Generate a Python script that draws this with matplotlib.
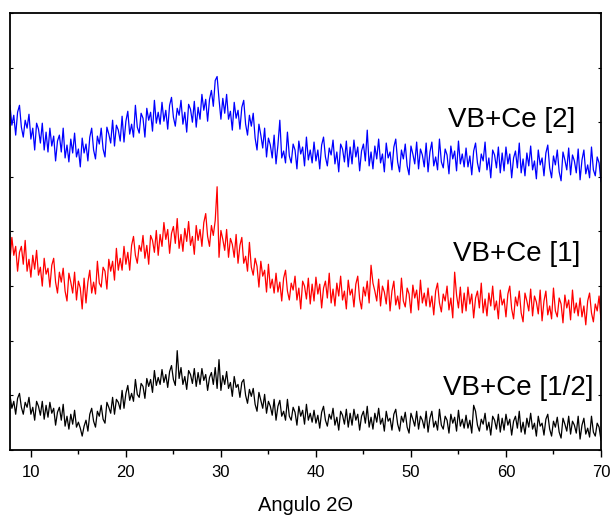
import numpy as np
import matplotlib
matplotlib.use("Agg")
import matplotlib.pyplot as plt

plt.rcParams['font.family'] = ['Liberation Sans', 'DejaVu Sans']

# angulo 2theta, passo de 0.2 graus (7.8 ... 70.0)
angulo = np.linspace(7.8, 70.0, 312)

# intensidades (unidades arbitrarias, curvas ja deslocadas)
vb_ce_2 = [
    347, 327, 337, 317, 340, 347, 325, 315, 332, 324, 338, 313, 324, 302, 329, 323, 309, 329, 302, 320,
    300, 324, 306, 316, 291, 311, 317, 300, 324, 294, 307, 290, 313, 299, 319, 295, 303, 285, 314, 299,
    308, 291, 315, 324, 302, 293, 316, 308, 324, 303, 295, 325, 318, 309, 332, 306, 327, 322, 311, 336,
    310, 331, 341, 318, 328, 315, 347, 325, 319, 339, 334, 315, 344, 332, 340, 321, 352, 329, 340, 328,
    350, 331, 342, 323, 347, 355, 335, 326, 344, 337, 352, 328, 340, 320, 348, 343, 330, 351, 325, 345,
    333, 358, 342, 353, 331, 353, 362, 346, 372, 376, 353, 333, 354, 339, 358, 333, 341, 322, 350, 334,
    342, 323, 345, 352, 328, 317, 337, 326, 339, 314, 302, 328, 317, 304, 324, 295, 314, 307, 294, 317,
    288, 307, 332, 294, 301, 289, 320, 296, 289, 308, 302, 283, 311, 298, 305, 286, 315, 292, 302, 289,
    310, 291, 302, 283, 307, 315, 295, 286, 304, 297, 312, 288, 300, 280, 308, 303, 290, 311, 285, 305,
    288, 312, 295, 305, 281, 301, 308, 291, 322, 286, 300, 283, 306, 293, 313, 289, 298, 280, 309, 294,
    300, 282, 305, 313, 290, 280, 302, 293, 308, 286, 277, 306, 298, 288, 310, 283, 303, 297, 285, 309,
    280, 300, 310, 286, 295, 282, 313, 290, 284, 303, 297, 278, 306, 293, 301, 281, 311, 288, 298, 285,
    304, 285, 296, 277, 301, 309, 289, 280, 298, 291, 310, 282, 294, 274, 302, 297, 284, 305, 279, 299,
    281, 305, 288, 298, 274, 294, 301, 284, 309, 279, 293, 276, 299, 286, 306, 282, 291, 273, 302, 287,
    294, 276, 299, 307, 284, 274, 296, 287, 302, 280, 271, 300, 292, 282, 304, 277, 297, 291, 279, 303,
    272, 292, 302, 278, 287, 274, 305, 282, 276, 295, 289, 270,
]

vb_ce_1 = [
    191, 214, 196, 205, 180, 199, 205, 187, 211, 180, 192, 174, 196, 182, 201, 176, 184, 165, 193, 177,
    183, 164, 186, 193, 169, 158, 179, 169, 183, 160, 150, 178, 169, 158, 179, 151, 170, 163, 142, 173,
    148, 169, 181, 158, 169, 157, 190, 168, 164, 184, 180, 162, 192, 180, 190, 171, 203, 181, 193, 181,
    205, 187, 199, 181, 206, 215, 196, 188, 206, 200, 216, 193, 206, 187, 216, 211, 199, 221, 196, 217,
    205, 229, 212, 222, 198, 218, 225, 208, 233, 203, 217, 200, 223, 210, 230, 206, 215, 197, 226, 211,
    222, 205, 229, 238, 215, 205, 226, 216, 231, 265, 194, 221, 212, 201, 222, 194, 213, 207, 194, 217,
    188, 206, 214, 188, 195, 180, 209, 184, 176, 193, 185, 164, 190, 175, 181, 159, 187, 163, 172, 158,
    178, 159, 169, 150, 173, 181, 160, 151, 168, 161, 175, 151, 163, 142, 170, 165, 152, 173, 147, 167,
    150, 174, 157, 167, 143, 163, 170, 153, 178, 148, 162, 145, 168, 155, 175, 151, 160, 142, 171, 156,
    162, 144, 167, 175, 152, 142, 164, 155, 170, 148, 186, 168, 160, 150, 172, 145, 165, 159, 147, 171,
    140, 160, 170, 146, 155, 142, 173, 150, 144, 163, 157, 138, 166, 153, 161, 141, 171, 148, 158, 145,
    163, 144, 155, 136, 160, 168, 148, 139, 157, 150, 165, 141, 153, 133, 179, 156, 143, 164, 138, 158,
    140, 164, 147, 157, 133, 153, 160, 143, 168, 138, 152, 135, 158, 145, 165, 141, 150, 132, 161, 146,
    152, 134, 157, 165, 142, 132, 154, 145, 160, 138, 129, 158, 150, 140, 162, 135, 155, 149, 137, 161,
    130, 150, 160, 136, 145, 132, 163, 140, 134, 153, 147, 128, 156, 143, 151, 131, 161, 138, 148, 135,
    153, 134, 145, 126, 150, 158, 138, 129, 147, 140, 155, 131,
]

vb_ce_meio = [
    55, 42, 49, 36, 52, 57, 43, 36, 48, 43, 53, 36, 43, 30, 49, 44, 35, 49, 31, 45,
    33, 48, 37, 42, 25, 38, 43, 30, 46, 24, 34, 21, 36, 26, 40, 23, 28, 22, 14, 24,
    30, 19, 36, 42, 29, 23, 39, 34, 45, 31, 27, 48, 43, 37, 53, 36, 51, 48, 41, 60,
    42, 57, 65, 50, 57, 49, 71, 56, 53, 67, 64, 52, 72, 64, 71, 58, 80, 65, 73, 66,
    81, 68, 76, 63, 79, 85, 71, 65, 100, 72, 83, 66, 74, 61, 80, 76, 67, 82, 64, 78,
    66, 82, 70, 76, 60, 73, 78, 66, 83, 62, 91, 60, 75, 66, 79, 62, 68, 54, 74, 63,
    66, 53, 68, 71, 55, 47, 61, 54, 62, 46, 39, 58, 50, 42, 56, 37, 49, 44, 35, 51,
    30, 44, 50, 34, 39, 30, 51, 34, 30, 43, 38, 25, 44, 34, 40, 26, 46, 30, 37, 28,
    40, 27, 35, 22, 38, 44, 30, 24, 36, 31, 42, 25, 33, 20, 39, 35, 26, 41, 23, 37,
    25, 41, 30, 36, 20, 34, 39, 27, 44, 23, 33, 21, 37, 28, 42, 26, 32, 19, 39, 29,
    32, 20, 36, 41, 26, 19, 34, 28, 38, 23, 17, 37, 31, 24, 39, 21, 34, 30, 22, 39,
    18, 32, 39, 23, 29, 20, 41, 25, 21, 34, 30, 17, 36, 27, 33, 19, 40, 24, 31, 22,
    35, 22, 30, 17, 45, 39, 25, 19, 31, 26, 37, 20, 28, 15, 34, 30, 21, 36, 18, 32,
    20, 36, 25, 31, 15, 29, 34, 22, 39, 18, 28, 16, 32, 23, 37, 21, 27, 14, 34, 24,
    27, 15, 31, 36, 21, 14, 29, 23, 33, 18, 12, 32, 26, 19, 34, 16, 29, 25, 17, 34,
    11, 25, 32, 16, 22, 13, 34, 18, 14, 27, 23, 10,
]

series = [
    (vb_ce_2, 'blue', 'VB+Ce [2]', 67.3, 332),
    (vb_ce_1, 'red', 'VB+Ce [1]', 67.8, 197),
    (vb_ce_meio, 'black', 'VB+Ce [1/2]', 69.2, 62),
]

fig = plt.figure(figsize=(6.12, 5.17), dpi=100)
ax = fig.add_axes([0.0163, 0.1296, 0.9657, 0.8454])

for valores, cor, rotulo, xt, yt in series:
    ax.plot(angulo, valores, color=cor, lw=0.9)
    ax.text(xt, yt, rotulo, ha='right', va='center', fontsize=20, color='black')

ax.set_xlim(7.8, 70)
ax.set_ylim(0, 440)
ax.set_xticks(np.arange(10, 71, 10))
ax.set_xticks(np.arange(15, 70, 10), minor=True)
ax.set_yticks(np.arange(0, 441, 55))
ax.tick_params(axis='x', which='major', direction='out', length=5, width=1, labelsize=12, pad=6)
ax.tick_params(axis='x', which='minor', direction='out', length=3, width=1)
ax.tick_params(axis='y', which='both', left=True, right=True, direction='in', length=2,
               labelleft=False)
for s in ax.spines.values():
    s.set_linewidth(1.3)

ax.set_xlabel('Angulo 2\u0398', fontsize=14.5, labelpad=11)

fig.savefig('out.png', dpi=100)
